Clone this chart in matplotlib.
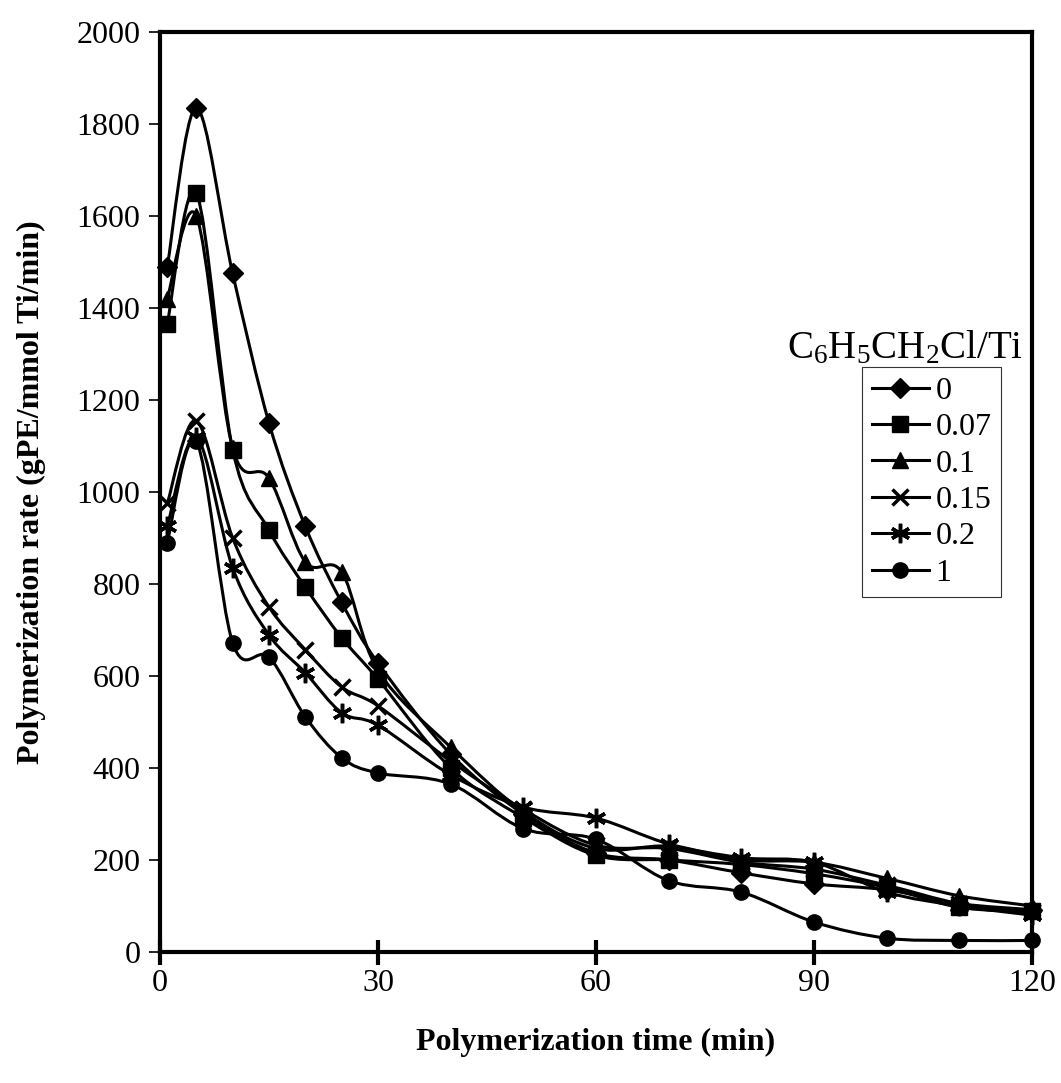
import numpy as np
import matplotlib.pyplot as plt
from matplotlib.path import Path
from matplotlib.patches import PathPatch
from matplotlib.lines import Line2D

plt.rcParams['font.family'] = ['Liberation Serif', 'DejaVu Serif']
plt.rcParams['mathtext.fontset'] = 'custom'
plt.rcParams['mathtext.rm'] = 'Liberation Serif'
plt.rcParams['mathtext.it'] = 'Liberation Serif'

# polymerization time (min)
time = [1, 5, 10, 15, 20, 25, 30, 40, 50, 60, 70, 80, 90, 100, 110, 120]

# rate in gPE/mmol Ti/min for each C6H5CH2Cl/Ti ratio
rate_0 = [1490, 1835, 1475, 1150, 925, 760, 628, 430, 300, 215, 200, 172, 148, 135, 105, 92]
rate_007 = [1365, 1650, 1092, 917, 793, 683, 593, 400, 292, 210, 200, 190, 170, 140, 97, 88]
rate_01 = [1420, 1600, 1095, 1030, 848, 826, 612, 445, 305, 225, 230, 200, 195, 160, 122, 100]
rate_015 = [975, 1155, 900, 750, 657, 576, 535, 415, 310, 232, 225, 195, 180, 145, 105, 86]
rate_02 = [925, 1120, 835, 689, 607, 520, 493, 385, 315, 291, 235, 205, 195, 130, 100, 80]
rate_1 = [890, 1110, 672, 641, 511, 422, 389, 365, 268, 245, 155, 130, 65, 30, 25, 25]

labels = ['0', '0.07', '0.1', '0.15', '0.2', '1']
series = [rate_0, rate_007, rate_01, rate_015, rate_02, rate_1]

# asterisk marker: six spokes
star = (6, 2, 0)
markers = ['D', 's', '^', 'x', star, 'o']
msizes = [10, 11, 12, 12, 14, 11]


def smooth_path(x, y):
    # Catmull-Rom style cubic Bezier through every point
    x = np.asarray(x, float)
    y = np.asarray(y, float)
    pts = np.column_stack([x, y])
    n = len(pts)
    verts = [pts[0]]
    codes = [Path.MOVETO]
    for i in range(n - 1):
        p0 = pts[i - 1] if i > 0 else pts[i]
        p1 = pts[i]
        p2 = pts[i + 1]
        p3 = pts[i + 2] if i + 2 < n else pts[i + 1]
        c1 = p1 + (p2 - p0) / 6.0
        c2 = p2 - (p3 - p1) / 6.0
        verts += [c1, c2, p2]
        codes += [Path.CURVE4] * 3
    return Path(verts, codes)


fig = plt.figure(figsize=(10.61, 10.83), dpi=100)
ax = fig.add_axes([0.1508, 0.1210, 0.8219, 0.8495])

handles = []
for vals, lab, m, ms in zip(series, labels, markers, msizes):
    patch = PathPatch(smooth_path(time, vals), facecolor='none',
                      edgecolor='black', lw=2.2, zorder=2)
    ax.add_patch(patch)
    mew = 2.5 if m in ('x', star) else 1
    ax.plot(time, vals, linestyle='none', marker=m, markersize=ms,
            color='black', markeredgewidth=mew, clip_on=False, zorder=3)
    handles.append(Line2D([], [], color='black', lw=2.2, marker=m,
                          markersize=ms, markeredgewidth=mew, label=lab))

ax.set_xlim(0, 120)
ax.set_ylim(0, 2000)
ax.set_xticks([0, 30, 60, 90, 120])
ax.set_yticks(np.arange(0, 2001, 200))

for s in ax.spines.values():
    s.set_linewidth(3)
ax.tick_params(axis='x', direction='inout', length=18, width=3, labelsize=23, pad=3)
ax.tick_params(axis='y', direction='out', length=8, width=1.2, labelsize=23, pad=6)

ax.set_xlabel('Polymerization time (min)', fontsize=23, fontweight='bold', labelpad=22)
ax.set_ylabel('Polymerization rate (gPE/mmol Ti/min)', fontsize=23, fontweight='bold', labelpad=22)

leg = ax.legend(handles=handles, loc='upper left', bbox_to_anchor=(0.805, 0.636),
                fontsize=23, frameon=True, fancybox=False, edgecolor='black',
                handlelength=1.8, handletextpad=0.2, labelspacing=0.22,
                borderpad=0.3, borderaxespad=0)
leg.get_frame().set_linewidth(0.8)

ax.text(0.854, 0.645, r'C$_6$H$_5$CH$_2$Cl/Ti', transform=ax.transAxes,
        fontsize=28, ha='center', va='baseline')

fig.savefig('out.png', dpi=100)
